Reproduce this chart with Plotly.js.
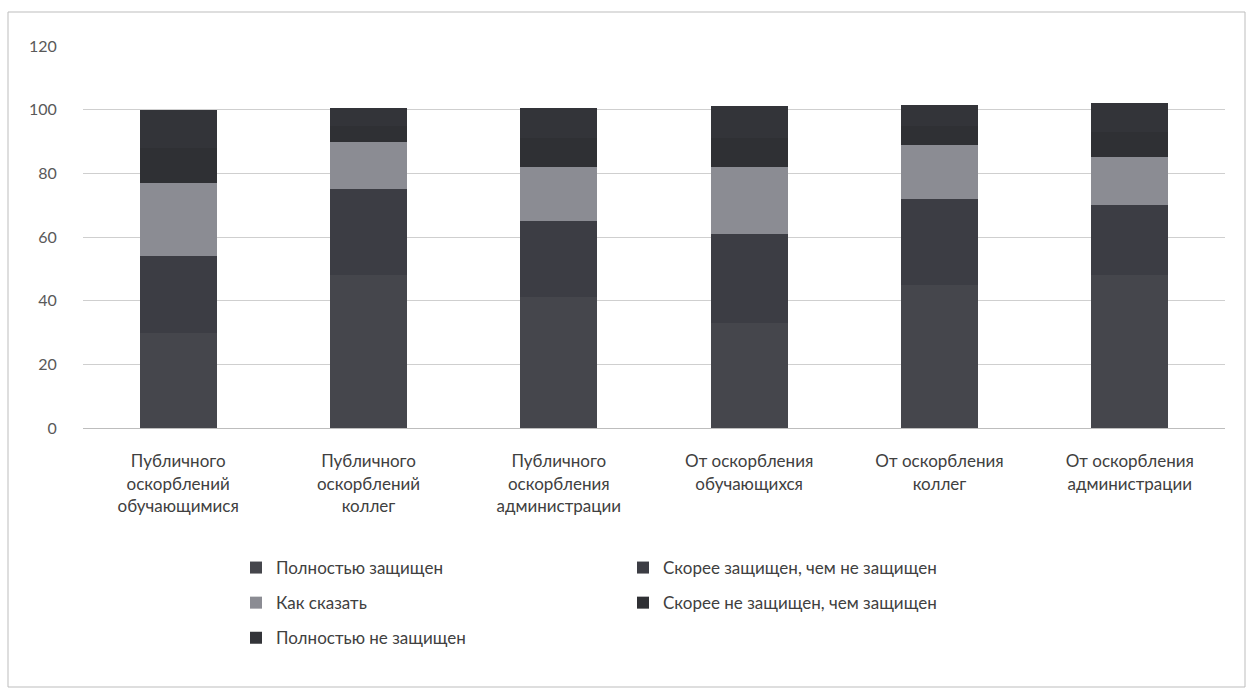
<!DOCTYPE html>
<html>
<head>
<meta charset="utf-8">
<script src="https://cdn.plot.ly/plotly-3.0.1.min.js"></script>
<style>html,body{margin:0;padding:0;background:#fff;}#chart{width:1249px;height:690px;}</style>
</head>
<body>
<div id="chart"></div>
<script>
const categories = [
  "Публичного<br>оскорблений<br>обучающимися",
  "Публичного<br>оскорблений<br>коллег",
  "Публичного<br>оскорбления<br>администрации",
  "От оскорбления<br>обучающихся",
  "От оскорбления<br>коллег",
  "От оскорбления<br>администрации"
];
const seriesNames = [
  "Полностью защищен",
  "Скорее защищен, чем не защищен",
  "Как сказать",
  "Скорее не защищен, чем защищен",
  "Полностью не защищен"
];
const fullyProtected      = [30, 48, 41, 33, 45, 48];
const ratherProtected     = [24, 27, 24, 28, 27, 22];
const hardToSay           = [23, 15, 17, 21, 17, 15];
const ratherNotProtected  = [11, 5, 9, 9, 6, 8];
const notProtected        = [12, 5.5, 9.6, 10, 6.5, 9];
const yTicks = [0, 20, 40, 60, 80, 100, 120];

const values = [fullyProtected, ratherProtected, hardToSay, ratherNotProtected, notProtected];
const colors = ["#45464c", "#3c3d44", "#8b8c93", "#2f3034", "#333439"];
const legendOf = ["legend", "legend2", "legend", "legend2", "legend"];

const font = "Lato, 'Open Sans', sans-serif";
const traces = values.map((v, i) => ({
  type: "bar",
  name: seriesNames[i],
  x: categories,
  y: v,
  marker: {color: colors[i], line: {width: 0}},
  legend: legendOf[i],
  legendgroup: "g" + i,
  hoverinfo: "x+y+name"
}));

const pw = 1142, ph = 382, L = 83, T = 46;
const px = x => (x - L) / pw;
const py = y => (T + ph - y) / ph;

const legendBase = {
  xanchor: "left", yanchor: "top",
  orientation: "v", traceorder: "grouped", tracegroupgap: 10,
  font: {size: 17, color: "#404040", family: font},
  bgcolor: "rgba(0,0,0,0)", itemwidth: 30
};

const layout = {
  width: 1249, height: 690,
  margin: {l: L, r: 24, t: T, b: 262},
  paper_bgcolor: "#ffffff",
  plot_bgcolor: "#ffffff",
  barmode: "stack",
  bargap: 0.595,
  font: {family: font, color: "#404040"},
  xaxis: {
    type: "category",
    tickfont: {size: 17, color: "#404040", family: font},
    ticks: "outside", ticklen: 18, tickcolor: "rgba(0,0,0,0)",
    showline: false, showgrid: false, zeroline: false
  },
  yaxis: {
    range: [0, 120],
    tickvals: yTicks,
    tickfont: {size: 16, color: "#595959", family: font},
    ticks: "outside", ticklen: 22, tickcolor: "rgba(0,0,0,0)",
    showgrid: true, gridcolor: "#cfcfcf", gridwidth: 1,
    zeroline: true, zerolinecolor: "#bdbdbd", zerolinewidth: 1,
    showline: false
  },
  legend: Object.assign({x: px(236), y: py(550)}, legendBase),
  legend2: Object.assign({x: px(623), y: py(550)}, legendBase),
  shapes: [{
    type: "rect", xref: "paper", yref: "paper",
    x0: px(8), x1: px(1245), y0: py(687), y1: py(12),
    line: {color: "#bdbdbd", width: 1}, fillcolor: "rgba(0,0,0,0)", layer: "below"
  }],
  showlegend: true
};

Plotly.newPlot("chart", traces, layout, {displayModeBar: false, responsive: false});
</script>
</body>
</html>
